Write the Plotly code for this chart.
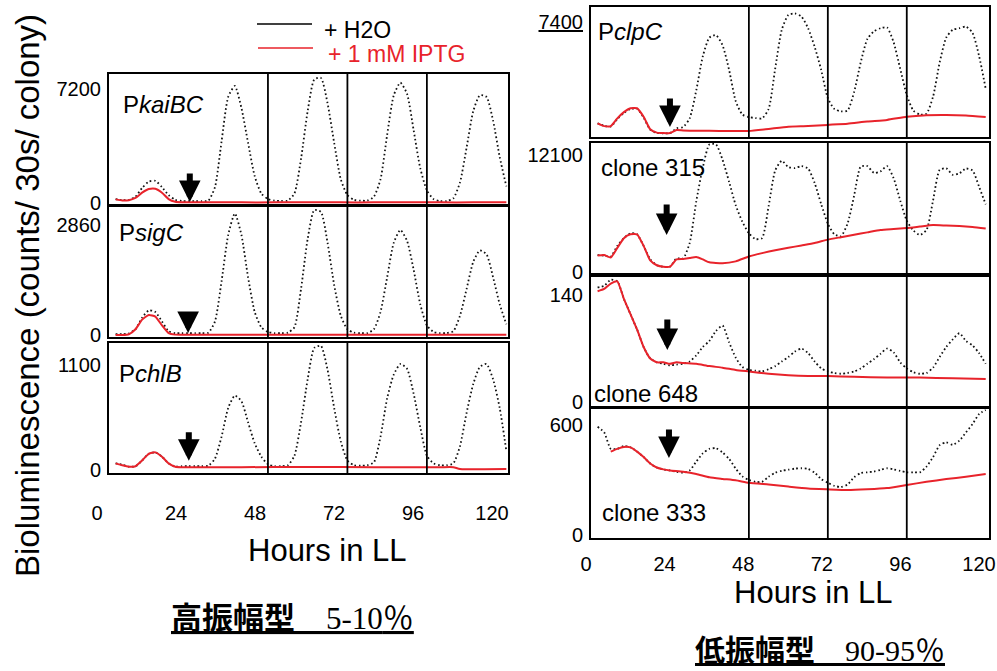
import plotly.graph_objects as go

W, H = 997, 671

# ---------------- data ----------------
HOURS = list(range(2, 121, 2))
HOUR_TICKS = [0, 24, 48, 72, 96, 120]
DAY_LINES = [48, 72, 96]

# left column
KAIBC_H2O = [250, 180, 200, 400, 950, 1350, 1400, 1000, 500, 200,
             130, 120, 120, 120, 150, 1000, 3900, 6700, 7390, 6000,
             3800, 1700, 600, 250, 150, 130, 150, 600, 2800, 5800,
             7800, 7900, 6300, 3800, 1500, 500, 200, 150, 150, 400,
             1500, 4300, 6800, 7600, 6900, 4600, 2200, 800, 250, 120,
             120, 300, 1300, 3500, 5800, 6800, 6700, 5200, 2900, 1050]
KAIBC_IPTG_H = [2, 4, 6, 8, 10, 12, 14, 16, 18, 20, 22, 30, 40, 50, 60, 70, 80, 90, 100, 110, 120]
KAIBC_IPTG = [230, 160, 180, 320, 650, 880, 900, 650, 250, 80, 50, 45, 40, 40, 45, 40, 40, 45, 40, 40, 45]
KAIBC_TICKS = [0, 7200]

SIGC_H2O = [20, 20, 40, 150, 450, 640, 600, 350, 100, 50,
            50, 50, 50, 50, 60, 350, 1400, 2600, 3160, 2600,
            1500, 600, 200, 80, 50, 50, 60, 200, 1200, 2500,
            3250, 3200, 2400, 1300, 500, 150, 60, 50, 50, 150,
            600, 1500, 2400, 2730, 2450, 1700, 800, 250, 80, 50,
            50, 100, 500, 1200, 1900, 2200, 2100, 1500, 800, 280]
SIGC_IPTG_H = [2, 4, 6, 8, 10, 12, 14, 16, 18, 20, 30, 40, 50, 60, 70, 80, 90, 100, 110, 120]
SIGC_IPTG = [0, 0, 20, 150, 400, 520, 480, 250, 50, 10, 5, 5, 5, 5, 5, 5, 5, 5, 5, 5]
SIGC_TICKS = [0, 2860]

CHLB_H2O = [70, 55, 35, 40, 100, 170, 185, 140, 70, 35,
            40, 40, 40, 40, 45, 120, 350, 650, 780, 720,
            500, 280, 140, 60, 40, 40, 50, 150, 500, 950,
            1280, 1300, 1050, 650, 300, 100, 50, 45, 50, 80,
            350, 750, 1000, 1110, 1060, 800, 450, 150, 70, 50,
            50, 70, 250, 600, 900, 1080, 1110, 950, 650, 200]
CHLB_IPTG_H = [2, 4, 6, 8, 10, 12, 14, 16, 18, 20, 22, 40, 60, 80, 100, 104, 106, 120]
CHLB_IPTG = [70, 50, 35, 40, 100, 170, 185, 140, 70, 35, 30, 30, 32, 30, 30, 30, 12, 10]
CHLB_TICKS = [0, 1100]

# right column
CLPC_H2O = [880, 720, 680, 1150, 1550, 1800, 1820, 1250, 480, 260,
            240, 240, 560, 640, 1200, 3000, 5200, 6400, 6550, 5900,
            4300, 2300, 1450, 1280, 1220, 1200, 1800, 4400, 6900, 7850,
            7950, 7750, 7000, 5800, 4300, 2500, 1800, 1650, 1700, 2900,
            4800, 6300, 6800, 7000, 7050, 6100, 4400, 2700, 1700, 1450,
            1500, 2600, 4800, 6400, 6900, 7000, 7100, 6700, 5200, 3100]
CLPC_IPTG_H = [2, 4, 6, 8, 10, 12, 14, 16, 18, 20, 22, 24, 26, 28, 30, 36, 42, 48, 54,
               60, 66, 72, 78, 84, 90, 96, 102, 108, 114, 120]
CLPC_IPTG = [880, 700, 700, 1200, 1600, 1850, 1850, 1300, 500, 280, 250, 260, 450, 420, 410,
             400, 380, 390, 520, 660, 700, 780, 860, 1000, 1100, 1300, 1400, 1420, 1380, 1280]
CLPC_TICKS = [7400]

C315_H2O = [1750, 1700, 1600, 2700, 3500, 4000, 3900, 2700, 1300, 700,
            550, 550, 1400, 1400, 3000, 7300, 10800, 13200, 13200, 11600,
            9300, 6900, 5200, 4000, 3400, 3500, 6800, 10500, 11500, 10850,
            10750, 10950, 10700, 9200, 7000, 5000, 3900, 3700, 5000, 7900,
            10900, 10950, 10250, 10400, 10950, 9700, 7400, 5300, 4300, 3830,
            4340, 7400, 10550, 10720, 10050, 10200, 10700, 10500, 8800, 7000]
C315_IPTG_H = [2, 4, 6, 8, 10, 12, 14, 16, 18, 20, 22, 24, 26, 28, 30, 32, 34, 36, 40, 44,
               48, 52, 56, 60, 64, 68, 72, 76, 80, 84, 88, 92, 96, 100, 104, 108, 112, 116, 120]
C315_IPTG = [1700, 1750, 1500, 2500, 3500, 3900, 3900, 2700, 1200, 700, 550, 550, 1300, 1350,
             1450, 1550, 1300, 1000, 900, 1100, 1600, 1950, 2250, 2500, 2750, 3000, 3350, 3600,
             3850, 4100, 4350, 4450, 4550, 4700, 4850, 4800, 4750, 4650, 4500]
C315_TICKS = [0, 12100]

C648_H2O = [150, 152, 160, 158, 135, 115, 95, 72, 57, 52,
            50, 48, 49, 50, 53, 61, 72, 80, 93, 100,
            78, 58, 46, 42, 41, 40, 43, 47, 53, 59,
            66, 70, 64, 53, 44, 40, 38, 37, 38, 40,
            44, 50, 56, 63, 70, 65, 52, 44, 39, 37,
            38, 45, 59, 72, 82, 90, 80, 74, 64, 50]
C648_IPTG_H = [2, 4, 6, 8, 10, 12, 14, 16, 18, 20, 22, 24, 26, 28, 32, 36, 40, 44, 48, 54,
               60, 66, 72, 80, 90, 100, 110, 120]
C648_IPTG = [145, 148, 155, 158, 135, 115, 95, 72, 57, 52, 52, 50, 52, 51, 50, 47, 45, 42, 40,
             37, 35, 34, 34, 33, 32, 32, 31, 30]
C648_TICKS = [0, 140]

C333_H2O = [590, 560, 470, 470, 485, 478, 455, 425, 390, 368,
            358, 352, 345, 340, 352, 400, 445, 470, 473, 450,
            415, 362, 320, 300, 290, 290, 318, 340, 350, 356,
            362, 364, 360, 340, 305, 285, 268, 262, 275, 315,
            338, 342, 346, 355, 364, 358, 350, 342, 342, 342,
            373, 425, 490, 505, 492, 515, 560, 605, 660, 682]
C333_IPTG_H = [6, 8, 10, 12, 14, 16, 18, 20, 22, 24, 28, 32, 36, 40, 44, 48, 54, 60, 66, 72,
               78, 84, 90, 96, 102, 108, 114, 120]
C333_IPTG = [455, 470, 480, 478, 455, 425, 390, 368, 358, 352, 345, 333, 315, 306, 298, 285,
             275, 264, 254, 249, 245, 249, 256, 273, 290, 305, 318, 333]
C333_TICKS = [0, 600]

# ---------------- layout helpers ----------------
def fx(p):
    return p / W


def fy(p):
    return 1 - p / H


BLACK = "#111111"
RED = "#e8232b"
SANS = "Liberation Sans, Arial, sans-serif"

# name, black, red hours, red, ticks, x-box px, y-box px, y-range, label pos, arrow (hour, tip value, length), hour-label axis
panels = [
    ("P<i>kaiBC</i>", KAIBC_H2O, KAIBC_IPTG_H, KAIBC_IPTG, KAIBC_TICKS, (109, 508), (74, 204), (-63, 8147), (121, 104), (24.4, 63, 30), None),
    ("P<i>sigC</i>", SIGC_H2O, SIGC_IPTG_H, SIGC_IPTG, SIGC_TICKS, (109, 508), (207, 337), (-52, 3328), (117, 232), (23.9, 52, 22), None),
    ("P<i>chlB</i>", CHLB_H2O, CHLB_IPTG_H, CHLB_IPTG, CHLB_TICKS, (109, 508), (343, 473), (-31, 1330), (117, 373), (24.1, 97, 30), ((97, 492), 26)),
    ("P<i>clpC</i>", CLPC_H2O, CLPC_IPTG_H, CLPC_IPTG, CLPC_TICKS, (591, 989), (7, 137), (0, 8365), (596, 31), (24.0, 643, 30), None),
    ("clone 315", C315_H2O, C315_IPTG_H, C315_IPTG, C315_TICKS, (591, 989), (143, 273), (-103, 13340), (599, 167), (23.0, 3826, 32), None),
    ("clone 648", C648_H2O, C648_IPTG_H, C648_IPTG, C648_TICKS, (591, 989), (277, 407), (-6.5, 163.6), (592, 393), (23.2, 68, 32), None),
    ("clone 333", C333_H2O, C333_IPTG_H, C333_IPTG, C333_TICKS, (591, 989), (408, 538), (-16.4, 692.7), (600, 512), (23.7, 420, 30), ((586, 979), 12)),
]

fig = go.Figure()
layout = dict(
    width=W, height=H,
    margin=dict(l=0, r=0, t=0, b=0, autoexpand=False),
    paper_bgcolor="white", plot_bgcolor="rgba(0,0,0,0)",
    showlegend=False,
    font=dict(family=SANS, color="black"),
)
shapes = []
annotations = []
n = len(panels)
label_axes = []

for i, (name, blk, rh, rd, yt, xb, yb, yr, lab, arr, hl) in enumerate(panels, start=1):
    xs = "x" if i == 1 else f"x{i}"
    ys = "y" if i == 1 else f"y{i}"
    fig.add_trace(go.Scatter(x=HOURS, y=blk, xaxis=xs, yaxis=ys, mode="lines",
                             line=dict(color=BLACK, width=1.8, dash="1.6px,2.6px", shape="spline", smoothing=0.6),
                             name="+ H2O", hoverinfo="skip"))
    fig.add_trace(go.Scatter(x=rh, y=rd, xaxis=xs, yaxis=ys, mode="lines",
                             line=dict(color=RED, width=2, shape="spline", smoothing=0.5),
                             name="+ 1 mM IPTG", hoverinfo="skip"))
    xkey = "xaxis" if i == 1 else f"xaxis{i}"
    ykey = "yaxis" if i == 1 else f"yaxis{i}"
    xr_max = 120.5 if xb[0] == 109 else 121.0
    layout[xkey] = dict(domain=[fx(xb[0]), fx(xb[1])], range=[0, xr_max], anchor=ys,
                        showline=True, mirror=True, linewidth=2, linecolor="black",
                        showgrid=False, zeroline=False, ticks="", tickvals=HOUR_TICKS,
                        showticklabels=False, automargin=False)
    if hl is not None:
        # label-only hour axis: the printed hour labels sit a little left of the grid
        n += 1
        (l0, l1), standoff = hl
        layout[f"xaxis{n}"] = dict(domain=[fx(l0), fx(l1)], range=[0, 120], anchor=ys,
                                   side="bottom", showline=False, showgrid=False,
                                   zeroline=False, ticks="", tickvals=HOUR_TICKS,
                                   ticklabelstandoff=standoff, automargin=False,
                                   tickfont=dict(size=20, family=SANS, color="black"))
        label_axes.append((f"x{n}", ys))
    ttext = [f"<u>{v}</u>" if name.startswith("P<i>clpC") else str(v) for v in yt]
    layout[ykey] = dict(domain=[fy(yb[1]), fy(yb[0])], range=list(yr), anchor=xs,
                        showline=True, mirror=True, linewidth=2, linecolor="black",
                        showgrid=False, zeroline=False, ticks="", automargin=False,
                        tickvals=yt, ticktext=ttext, ticklabelstandoff=2,
                        tickfont=dict(size=20, family=SANS, color="black"))
    for d in DAY_LINES:
        shapes.append(dict(type="line", xref=xs, yref=f"{ys} domain", x0=d, x1=d, y0=0, y1=1,
                           line=dict(color="black", width=1.8)))
    annotations.append(dict(text=name, xref="paper", yref="paper", x=fx(lab[0]), y=fy(lab[1]),
                            xanchor="left", yanchor="middle", showarrow=False,
                            font=dict(size=24, family=SANS, color="black")))
    annotations.append(dict(text="", xref=xs, yref=ys, x=arr[0], y=arr[1], ax=0, ay=-arr[2],
                            showarrow=True, arrowhead=2, arrowsize=0.72, arrowwidth=6,
                            arrowcolor="black", standoff=0))

# empty traces so the label-only axes are drawn
for xa, ya in label_axes:
    fig.add_trace(go.Scatter(x=[None], y=[None], xaxis=xa, yaxis=ya, showlegend=False,
                             hoverinfo="skip"))

# legend
shapes.append(dict(type="line", xref="paper", yref="paper", x0=fx(257), x1=fx(312), y0=fy(24), y1=fy(24),
                   line=dict(color="black", width=1.5)))
shapes.append(dict(type="line", xref="paper", yref="paper", x0=fx(258), x1=fx(313), y0=fy(48), y1=fy(48),
                   line=dict(color=RED, width=1.5)))
annotations.append(dict(text="+ H2O", xref="paper", yref="paper", x=fx(322), y=fy(30),
                        xanchor="left", yanchor="middle", showarrow=False,
                        font=dict(size=23, family=SANS, color="black")))
annotations.append(dict(text="+ 1 mM IPTG", xref="paper", yref="paper", x=fx(326), y=fy(54),
                        xanchor="left", yanchor="middle", showarrow=False,
                        font=dict(size=23, family=SANS, color=RED)))

# axis titles
annotations.append(dict(text="Bioluminescence (counts/ 30s/ colony)", xref="paper", yref="paper",
                        x=fx(27), y=fy(296), textangle=-90, showarrow=False,
                        xanchor="center", yanchor="middle",
                        font=dict(size=33, family=SANS, color="black")))
annotations.append(dict(text="Hours in LL", xref="paper", yref="paper", x=fx(327), y=fy(550),
                        showarrow=False, xanchor="center", yanchor="middle",
                        font=dict(size=31, family=SANS, color="black")))
annotations.append(dict(text="Hours in LL", xref="paper", yref="paper", x=fx(813), y=fy(592),
                        showarrow=False, xanchor="center", yanchor="middle",
                        font=dict(size=31, family=SANS, color="black")))

# captions
CJK = "Noto Sans CJK JP"
SERIF = "Liberation Serif"
cap_left = (f'<u><span style="font-family:{CJK};font-weight:bold">高振幅型</span>'
            f'<span style="font-family:{SERIF}">　5-10</span>'
            f'<span style="font-family:{CJK}">％</span></u>')
cap_right = (f'<u><span style="font-family:{CJK};font-weight:bold">低振幅型</span>'
             f'<span style="font-family:{SERIF}">　90-95</span>'
             f'<span style="font-family:{CJK}">％</span></u>')
annotations.append(dict(text=cap_left, xref="paper", yref="paper", x=fx(292), y=fy(615),
                        showarrow=False, xanchor="center", yanchor="middle",
                        font=dict(size=31, family=CJK, color="black")))
annotations.append(dict(text=cap_right, xref="paper", yref="paper", x=fx(820), y=fy(648),
                        showarrow=False, xanchor="center", yanchor="middle",
                        font=dict(size=30, family=CJK, color="black")))

layout["shapes"] = shapes
layout["annotations"] = annotations
fig.update_layout(**layout)
fig.write_html(
    "out.html",
    config={"displayModeBar": False},
    post_script=(
        "document.documentElement.style.margin='0px';"
        "document.documentElement.style.overflow='hidden';"
        "document.body.style.margin='0px';"
        "document.body.style.overflow='hidden';"
        "var s=document.querySelectorAll('svg.main-svg');"
        "for(var k=0;k<s.length;k++){s[k].style.overflow='hidden';}"
    ),
)
